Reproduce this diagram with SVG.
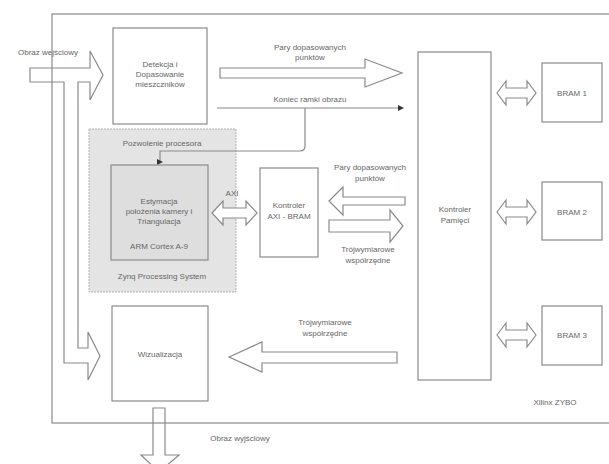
<svg xmlns="http://www.w3.org/2000/svg" width="609" height="464" viewBox="0 0 609 464">
<style>
.box{fill:#fff;stroke:#8a8a8a;stroke-width:1.2}
.arr{fill:#fff;stroke:#8a8a8a;stroke-width:1.2;stroke-linejoin:miter}
.ln{fill:none;stroke:#8a8a8a;stroke-width:1.2}
text{font-family:"Liberation Sans",Arial,sans-serif;font-size:8px;fill:#666;text-anchor:middle}
</style>
<defs>
<marker id="dot" markerWidth="6" markerHeight="6" refX="3" refY="3" markerUnits="userSpaceOnUse">
<path d="M0,0 L6,3 L0,6 Z" fill="#333"/>
</marker>
</defs>
<rect width="609" height="464" fill="#fff"/>
<g id="zynq">
<rect x="89" y="129" width="147" height="163" fill="#e4e4e4" stroke="#b0b0b0" stroke-width="1" stroke-dasharray="2,1"/>
<text x="162" y="146">Pozwolenie procesora</text>
<text x="162" y="279">Zynq Processing System</text>
</g>
<g id="connectors">
<path class="arr" d="M30,68 L90,68 L90,51 L103,75 L90,100 L90,82 L78,82 L78,348 L88,348 L88,332 L100,356 L88,380 L88,363 L64,363 L64,82 L30,82 Z"/>
<path class="arr" d="M220,68 L365,68 L365,59 L402,73 L365,87 L365,78 L220,78 Z"/>
<path class="ln" d="M217,108 L401,108" marker-end="url(#dot)"/>
<path class="ln" d="M305,108 L305,146 Q305,151 300,151 L160,151 L160,162" marker-end="url(#dot)"/>
<path class="arr" d="M212,213 L223,201 L223,208 L246,208 L246,201 L257,213 L246,225 L246,218 L223,218 L223,225 Z"/>
<path class="arr" d="M329,201 L343,187 L343,197 L405,197 L405,205 L343,205 L343,215 Z"/>
<path class="arr" d="M329,220 L390,220 L390,210 L403,226 L390,242 L390,232 L329,232 Z"/>
<path class="arr" d="M497,93 L506,81 L506,88 L527,88 L527,81 L536,93 L527,105 L527,98 L506,98 L506,105 Z"/>
<path class="arr" d="M497,212 L506,200 L506,207 L527,207 L527,200 L536,212 L527,224 L527,217 L506,217 L506,224 Z"/>
<path class="arr" d="M497,335 L506,323 L506,330 L527,330 L527,323 L536,335 L527,347 L527,340 L506,340 L506,347 Z"/>
<path class="arr" d="M229,357 L262,342 L262,352 L397,352 L397,363 L262,363 L262,372 Z"/>
<path class="arr" d="M153,408 L165,408 L165,455 L179,455 L159,472 L141,455 L153,455 Z"/>
<text x="48" y="55">Obraz wejściowy</text>
<text x="310" y="50">Pary dopasowanych</text>
<text x="310" y="60">punktów</text>
<text x="310" y="102">Koniec ramki obrazu</text>
<text x="232" y="196">AXI</text>
<text x="370" y="170">Pary dopasowanych</text>
<text x="370" y="181">punktów</text>
<text x="368" y="252">Trójwymiarowe</text>
<text x="368" y="263">współrzędne</text>
<text x="325" y="325">Trójwymiarowe</text>
<text x="325" y="336">współrzędne</text>
<text x="240" y="441">Obraz wyjściowy</text>
</g>
<g id="frame">
<rect x="52" y="14" width="560" height="409" fill="none" stroke="#8a8a8a" stroke-width="1.2"/>
<text x="555" y="405">Xilinx ZYBO</text>
</g>
<g id="detekcja">
<rect class="box" x="113" y="28" width="94" height="96"/>
<text x="160" y="67">Detekcja i</text>
<text x="160" y="77">Dopasowanie</text>
<text x="160" y="87">mieszczników</text>
</g>
<g id="estymacja">
<rect x="111" y="165" width="97" height="95" fill="#dedede" stroke="#8a8a8a" stroke-width="1.2"/>
<text x="159" y="204">Estymacja</text>
<text x="159" y="214">położenia kamery i</text>
<text x="159" y="224">Triangulacja</text>
<text x="159" y="249">ARM Cortex A-9</text>
</g>
<g id="kontroler-axi">
<rect class="box" x="260" y="168" width="58" height="89"/>
<text x="289" y="208">Kontroler</text>
<text x="289" y="219">AXI - BRAM</text>
</g>
<g id="kontroler-pamieci">
<rect class="box" x="418" y="52" width="73" height="328"/>
<text x="455" y="212">Kontroler</text>
<text x="455" y="223">Pamięci</text>
</g>
<g id="bram1">
<rect class="box" x="542" y="63" width="60" height="59"/>
<text x="572" y="96">BRAM 1</text>
</g>
<g id="bram2">
<rect class="box" x="542" y="182" width="60" height="58"/>
<text x="572" y="215">BRAM 2</text>
</g>
<g id="bram3">
<rect class="box" x="542" y="306" width="60" height="59"/>
<text x="572" y="338">BRAM 3</text>
</g>
<g id="wizualizacja">
<rect class="box" x="112" y="306" width="96" height="95"/>
<text x="160" y="357">Wizualizacja</text>
</g>
</svg>
